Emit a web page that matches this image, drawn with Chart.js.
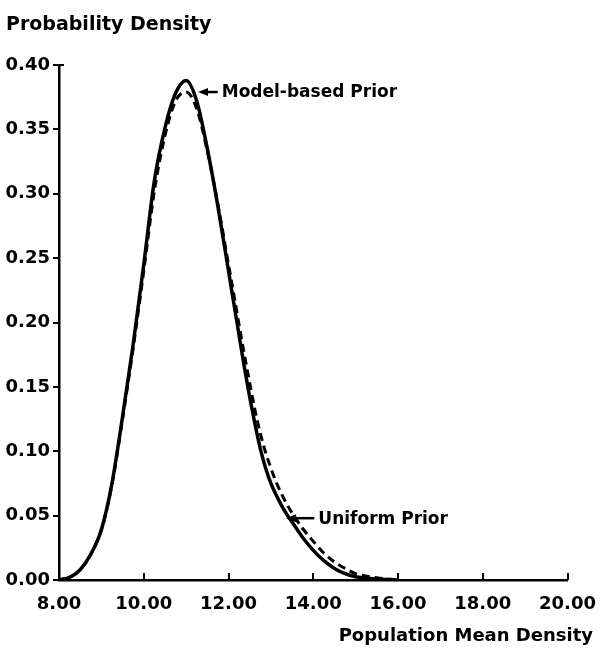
<!DOCTYPE html>
<html>
<head>
<meta charset="utf-8">
<script src="https://cdn.jsdelivr.net/npm/chart.js@4.4.0/dist/chart.umd.min.js"></script>
<style>
  html, body { margin: 0; padding: 0; background: #fff; }
  #wrap { width: 602px; height: 652px; position: relative; }
</style>
</head>
<body>
<div id="wrap"><canvas id="densityChart" width="602" height="652"></canvas></div>
<script>
// population mean density (x) and probability density
const xs = [8.0, 8.25, 8.5, 8.75, 9.0, 9.25, 9.5, 9.75, 10.0, 10.25, 10.5, 10.75, 11.0, 11.25, 11.5, 11.75,
    12.0, 12.125, 12.25, 12.375, 12.5, 12.625, 12.75, 12.875, 13.0, 13.125, 13.25, 13.375, 13.5,
    13.75, 14.0, 14.25, 14.5, 14.75, 15.0, 15.5, 16.0];
const modelPrior = [0, 0.002, 0.008, 0.020, 0.039, 0.075, 0.127, 0.183, 0.245, 0.310, 0.351, 0.378, 0.388, 0.372, 0.335, 0.290,
    0.240, 0.215, 0.190, 0.165, 0.142, 0.121, 0.102, 0.087, 0.075, 0.066, 0.058, 0.051, 0.045,
    0.033, 0.023, 0.015, 0.009, 0.005, 0.0025, 0.0008, 0];
const uniformPrior = [0, 0.002, 0.008, 0.020, 0.039, 0.074, 0.125, 0.180, 0.240, 0.302, 0.345, 0.372, 0.379, 0.366, 0.333, 0.292,
    0.245, 0.222, 0.198, 0.175, 0.153, 0.132, 0.114, 0.099, 0.087, 0.076, 0.067, 0.059, 0.052,
    0.040, 0.030, 0.021, 0.014, 0.009, 0.005, 0.0017, 0];
const xTicks = [8, 10, 12, 14, 16, 18, 20];
const yTicks = [0, 0.05, 0.10, 0.15, 0.20, 0.25, 0.30, 0.35, 0.40];

const labels = [
    { text: 'Model-based Prior', tipX: 11.28, tipY: 0.379, textX: 11.84 },
    { text: 'Uniform Prior', tipX: 13.36, tipY: 0.048, textX: 14.12 }
];

function toPoints(values) {
    return xs.map((x, i) => ({ x: x, y: values[i] }));
}

// axis titles, inward x ticks and the arrow labels
const extras = {
    id: 'extras',
    afterDraw(chart) {
        const c = chart.ctx;
        const sx_ = chart.scales.x;
        const sy_ = chart.scales.y;
        c.save();
        c.fillStyle = '#000';
        c.strokeStyle = '#000';

        // x ticks point up into the plot
        c.lineWidth = 2;
        xTicks.slice(1).forEach(v => {
            const px = Math.round(sx_.getPixelForValue(v));
            c.beginPath();
            c.moveTo(px, sy_.bottom);
            c.lineTo(px, sy_.bottom - 7);
            c.stroke();
        });
        // short cap at the top of the y axis
        c.beginPath();
        c.moveTo(sx_.left - 1, sy_.top);
        c.lineTo(sx_.left + 5, sy_.top);
        c.stroke();

        c.textBaseline = 'middle';
        c.textAlign = 'left';
        c.font = 'bold 19px "DejaVu Sans"';
        c.fillText('Probability Density', 6, 25);
        c.textAlign = 'right';
        c.font = 'bold 18px "DejaVu Sans"';
        c.fillText('Population Mean Density', 593, 636);

        c.font = 'bold 17px "DejaVu Sans"';
        c.textAlign = 'left';
        labels.forEach(l => {
            const tx = sx_.getPixelForValue(l.tipX);
            const ty = sy_.getPixelForValue(l.tipY);
            const sx = sx_.getPixelForValue(l.textX);
            c.lineWidth = 2.5;
            c.beginPath();
            c.moveTo(tx + 4, ty);
            c.lineTo(sx - 4, ty);
            c.stroke();
            c.beginPath();
            c.moveTo(tx, ty);
            c.lineTo(tx + 10, ty - 4);
            c.lineTo(tx + 10, ty + 4);
            c.closePath();
            c.fill();
            c.fillText(l.text, sx, ty + 1);
        });
        c.restore();
    }
};

document.addEventListener('DOMContentLoaded', function () {
    const ctx = document.getElementById('densityChart').getContext('2d');
    const densityChart = new Chart(ctx, {
        type: 'line',
        data: {
            datasets: [{
                label: 'Model-based Prior',
                data: toPoints(modelPrior),
                borderColor: '#000',
                borderWidth: 3.5,
                pointRadius: 0,
                cubicInterpolationMode: 'monotone',
                fill: false
            }, {
                label: 'Uniform Prior',
                data: toPoints(uniformPrior),
                borderColor: '#000',
                borderWidth: 3,
                borderDash: [8, 5],
                pointRadius: 0,
                cubicInterpolationMode: 'monotone',
                fill: false
            }]
        },
        options: {
            responsive: false,
            animation: false,
            layout: { padding: { left: 0, top: 65, right: 31, bottom: 32 } },
            plugins: {
                legend: { display: false },
                tooltip: { enabled: false }
            },
            scales: {
                x: {
                    type: 'linear',
                    min: 8,
                    max: 20,
                    afterBuildTicks: scale => { scale.ticks = xTicks.map(v => ({ value: v })); },
                    afterFit: scale => { scale.height = 40; },
                    grid: { display: false },
                    border: { display: true, color: '#000', width: 2.5 },
                    ticks: {
                        color: '#000',
                        padding: 6,
                        maxRotation: 0,
                        autoSkip: false,
                        font: { family: 'DejaVu Sans', size: 18, weight: 'bold' },
                        callback: v => v.toFixed(2)
                    }
                },
                y: {
                    min: 0,
                    max: 0.40,
                    afterBuildTicks: scale => { scale.ticks = yTicks.map(v => ({ value: v })); },
                    afterFit: scale => { scale.width = 59; },
                    grid: {
                        drawOnChartArea: false,
                        drawTicks: true,
                        tickLength: 6,
                        color: '#000',
                        lineWidth: 2
                    },
                    border: { display: true, color: '#000', width: 2.5 },
                    ticks: {
                        color: '#000',
                        padding: 3,
                        font: { family: 'DejaVu Sans', size: 18, weight: 'bold' },
                        callback: v => v.toFixed(2)
                    }
                }
            }
        },
        plugins: [extras]
    });
});
</script>
</body>
</html>
